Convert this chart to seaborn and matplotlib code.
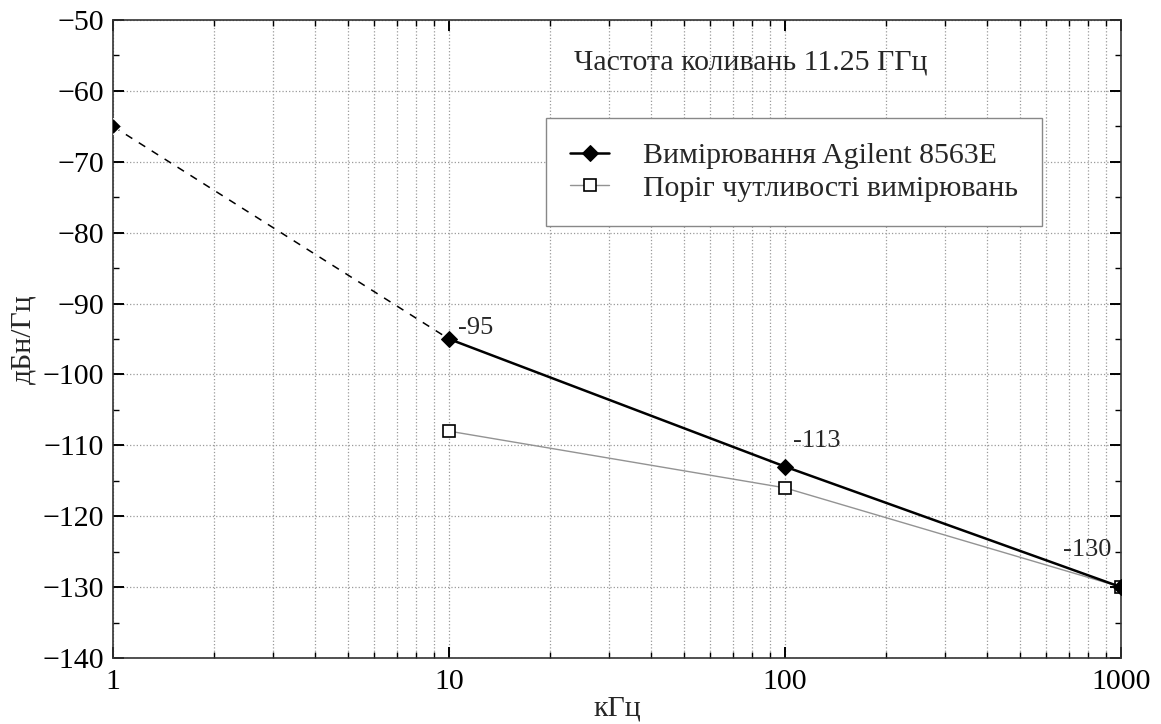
import matplotlib
matplotlib.use("Agg")
import matplotlib.pyplot as plt
import matplotlib.ticker as mticker
import numpy as np
import pandas as pd
import seaborn as sns

# Offset frequency, kHz, and phase-noise levels, dBc/Hz
freq_khz = [1, 10, 100, 1000]
agilent_dbc = [-65, -95, -113, -130]
threshold_freq_khz = [10, 100, 1000]
threshold_dbc = [-108, -116, -130]

agilent_label = "Вимірювання Agilent 8563E"
threshold_label = "Поріг чутливості вимірювань"
title_text = "Частота коливань 11.25 ГГц"
x_label = "кГц"
y_label = "дБн/Гц"
x_tick_values = [1, 10, 100, 1000]
x_tick_labels = ["1", "10", "100", "1000"]

sns.set_style("ticks")
plt.rcParams["font.family"] = ["Liberation Serif", "DejaVu Serif"]

FS = 21.5

fig = plt.figure(figsize=(11.61, 7.24), dpi=100)
ax = fig.add_axes([0.0973, 0.0912, 0.8682, 0.8812])

meas = pd.DataFrame({"f": freq_khz, "v": agilent_dbc})
thr = pd.DataFrame({"f": threshold_freq_khz, "v": threshold_dbc})

# Sensitivity threshold (thin grey line, open squares)
sns.lineplot(data=thr, x="f", y="v", ax=ax, color="#939393", linewidth=1.0,
             marker="s", markersize=8, markerfacecolor="white",
             markeredgecolor="black", markeredgewidth=1.2,
             label=threshold_label, zorder=3)

# Extrapolated part of the measurement (dashed)
sns.lineplot(data=meas.iloc[:2], x="f", y="v", ax=ax, color="black",
             linewidth=1.1, linestyle=(0, (5, 5)), marker="D", markersize=8.5,
             zorder=4, legend=False)

# Measured part (solid black with diamonds)
sns.lineplot(data=meas.iloc[1:], x="f", y="v", ax=ax, color="black",
             linewidth=1.8, marker="D", markersize=8.5,
             markerfacecolor="black", markeredgecolor="black",
             label=agilent_label, zorder=5)

ax.set_xscale("log")
ax.set_xlim(1, 1000)
ax.set_ylim(-140, -50)
ax.xaxis.set_major_locator(mticker.FixedLocator(x_tick_values))
ax.xaxis.set_major_formatter(mticker.FixedFormatter(x_tick_labels))
ax.xaxis.set_minor_locator(mticker.LogLocator(base=10, subs=np.arange(2, 10)))
ax.xaxis.set_minor_formatter(mticker.NullFormatter())
ax.yaxis.set_major_locator(mticker.MultipleLocator(10))
ax.yaxis.set_minor_locator(mticker.MultipleLocator(5))

ax.tick_params(which="both", direction="in", top=True, right=True,
               labelsize=FS, colors="black")
ax.tick_params(which="major", length=8, width=1.4)
ax.tick_params(which="minor", length=4, width=1.0)
ax.tick_params(axis="x", pad=8)
ax.tick_params(axis="y", pad=6.5)

for s in ax.spines.values():
    s.set_color("#333333")
    s.set_linewidth(1.2)

ax.grid(which="major", axis="both", linestyle=":", color="#9a9a9a", linewidth=0.9)
ax.grid(which="minor", axis="x", linestyle=":", color="#9a9a9a", linewidth=0.9)
ax.set_axisbelow(True)

ax.set_xlabel(x_label, fontsize=FS, labelpad=0.5)
ax.set_ylabel(y_label, fontsize=FS, labelpad=4)

# Value annotations next to the measured points
offsets = {10: (9, 5), 100: (8, 20), 1000: (-58, 31)}
for f, v in zip(freq_khz[1:], agilent_dbc[1:]):
    ax.annotate(f"{v}", xy=(f, v), xytext=offsets[f], textcoords="offset pixels",
                fontsize=19, ha="left", va="baseline", annotation_clip=False)

ax.text(0.633, 0.922, title_text, transform=ax.transAxes, fontsize=FS,
        ha="center", va="baseline")

handles, labels = ax.get_legend_handles_labels()
order = [labels.index(agilent_label), labels.index(threshold_label)]
leg = ax.legend([handles[i] for i in order], [labels[i] for i in order],
                loc="upper left", bbox_to_anchor=(0.43, 0.697, 0.492, 0.149),
                mode="expand", fontsize=FS,
                frameon=True, fancybox=False, framealpha=1, edgecolor="#888888",
                handlelength=1.3, handletextpad=1.15, borderpad=0.8,
                labelspacing=0.2, borderaxespad=0)
leg.get_frame().set_linewidth(1.0)

fig.savefig("out.png", dpi=100)
